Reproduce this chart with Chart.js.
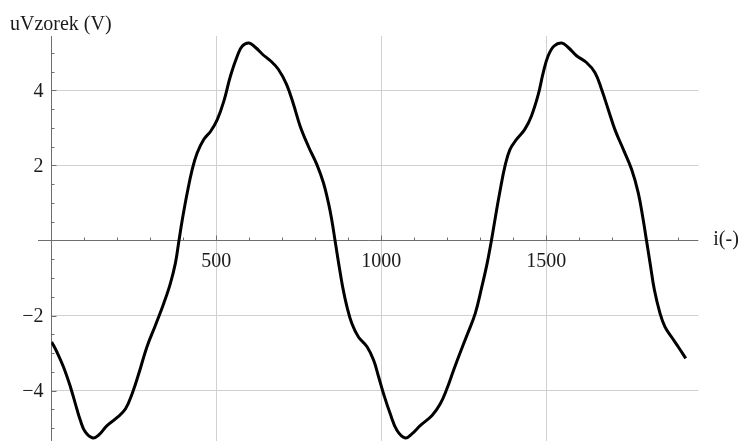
<!DOCTYPE html>
<html>
<head>
<meta charset="utf-8">
<script src="https://cdn.jsdelivr.net/npm/chart.js@4/dist/chart.umd.min.js"></script>
<style>
  html, body { margin: 0; padding: 0; background: #ffffff; }
  #wrap { width: 745px; height: 441px; position: relative; }
</style>
</head>
<body>
<div id="wrap"><canvas id="c"></canvas></div>
<script>
// Sample index i and measured voltage uVzorek (V)
const sampleIndex = [
  1, 17, 37, 58, 73, 88, 103, 126, 144, 169, 199, 225, 245, 265, 290, 316, 341, 361, 376, 387,
  397, 412, 427, 442, 462, 483, 503, 523, 543, 564, 579, 599, 619, 640, 665, 688, 713, 734, 754, 779,
  805, 825, 840, 850, 860, 871, 883, 896, 911, 931, 957, 977, 992, 1007, 1027, 1048, 1073, 1093, 1118, 1154,
  1179, 1199, 1219, 1240, 1260, 1285, 1305, 1321, 1334, 1346, 1359, 1375, 1390, 1410, 1435, 1455, 1476, 1491, 1506, 1524,
  1547, 1567, 1592, 1622, 1648, 1668, 1688, 1708, 1734, 1759, 1779, 1794, 1804, 1815, 1828, 1845, 1860, 1880, 1900, 1923
];
const voltage = [
  -2.70, -2.97, -3.37, -3.90, -4.35, -4.79, -5.10, -5.26, -5.18, -4.93, -4.72, -4.48, -4.08, -3.55, -2.83, -2.25, -1.67, -1.14, -0.61, 0.00,
  0.55, 1.27, 1.89, 2.33, 2.69, 2.91, 3.22, 3.71, 4.38, 4.92, 5.18, 5.26, 5.14, 4.96, 4.78, 4.56, 4.16, 3.63, 3.05, 2.51,
  2.02, 1.53, 1.00, 0.55, 0.00, -0.61, -1.23, -1.76, -2.21, -2.57, -2.83, -3.19, -3.63, -4.08, -4.61, -5.06, -5.26, -5.15, -4.93, -4.66,
  -4.35, -3.95, -3.46, -2.97, -2.52, -1.94, -1.23, -0.61, 0.00, 0.62, 1.27, 1.98, 2.42, 2.69, 2.96, 3.31, 3.89, 4.47, 4.92, 5.18,
  5.26, 5.14, 4.92, 4.74, 4.47, 4.02, 3.49, 2.96, 2.42, 1.89, 1.27, 0.55, 0.00, -0.61, -1.32, -1.94, -2.30, -2.57, -2.83, -3.14
];

// Labelled ticks on each axis
const xMajorTicks = [500, 1000, 1500];
const yMajorTicks = [-4, -2, 2, 4];
const xMinorStep = 100;
const yMinorStep = 0.5;

const xAxisTitle = 'i(-)';
const yAxisTitle = 'uVzorek (V)';

const labelFont = '20px "Liberation Serif", "Times New Roman", serif';
const axisColor = '#6e6e6e';
const gridColor = '#d0d0d0';
const textColor = '#1a1a1a';

const points = sampleIndex.map((v, k) => ({ x: v, y: voltage[k] }));

function fmt(v) {
  return v < 0 ? '\u2212' + Math.abs(v) : String(v);
}

// Axes crossing at the origin, with minor ticks and labels beside them
const originAxes = {
  id: 'originAxes',
  beforeDatasetsDraw(chart) {
    const { ctx, chartArea: a, scales: { x, y } } = chart;
    const x0 = Math.round(x.getPixelForValue(0)) + 0.5;
    const y0 = Math.round(y.getPixelForValue(0)) + 0.5;
    ctx.save();
    ctx.strokeStyle = axisColor;
    ctx.lineWidth = 1;
    ctx.beginPath();
    ctx.moveTo(Math.round(x.getPixelForValue(-40)), y0);
    ctx.lineTo(a.right, y0);
    ctx.moveTo(x0, a.top);
    ctx.lineTo(x0, a.bottom);
    for (let v = xMinorStep; v < x.max; v += xMinorStep) {
      const px = Math.round(x.getPixelForValue(v)) + 0.5;
      const len = xMajorTicks.includes(v) ? 5 : 3;
      ctx.moveTo(px, y0);
      ctx.lineTo(px, y0 - len);
    }
    for (let v = Math.ceil(y.min / yMinorStep) * yMinorStep; v <= y.max; v += yMinorStep) {
      if (Math.abs(v) < 1e-9) continue;
      const py = Math.round(y.getPixelForValue(v)) + 0.5;
      const len = yMajorTicks.includes(v) ? 5 : 3;
      ctx.moveTo(x0, py);
      ctx.lineTo(x0 + len, py);
    }
    ctx.stroke();

    ctx.fillStyle = textColor;
    ctx.font = labelFont;
    ctx.textBaseline = 'alphabetic';
    ctx.textAlign = 'center';
    xMajorTicks.forEach(v => {
      ctx.fillText(fmt(v), x.getPixelForValue(v), y0 + 26);
    });
    ctx.textAlign = 'right';
    yMajorTicks.forEach(v => {
      ctx.fillText(fmt(v), x0 - 8, y.getPixelForValue(v) + 6.5);
    });
    ctx.textAlign = 'left';
    ctx.fillText(yAxisTitle, 10, 30);
    ctx.fillText(xAxisTitle, a.right + 15, y0 + 4);
    ctx.restore();
  }
};

new Chart(document.getElementById('c'), {
  type: 'line',
  data: {
    datasets: [{
      data: points,
      borderColor: '#000000',
      borderWidth: 3,
      pointRadius: 0,
      tension: 0.4,
      fill: false
    }]
  },
  options: {
    responsive: true,
    maintainAspectRatio: false,
    animation: false,
    layout: { padding: { left: 51.3, right: 46.7, top: 36, bottom: 0 } },
    plugins: { legend: { display: false }, tooltip: { enabled: false } },
    scales: {
      x: {
        type: 'linear',
        min: 0,
        max: 1961,
        afterBuildTicks: s => { s.ticks = xMajorTicks.map(v => ({ value: v })); },
        ticks: { display: false },
        border: { display: false },
        grid: { color: gridColor, lineWidth: 1, drawTicks: false }
      },
      y: {
        type: 'linear',
        min: -5.34,
        max: 5.446,
        afterBuildTicks: s => { s.ticks = yMajorTicks.map(v => ({ value: v })); },
        ticks: { display: false },
        border: { display: false },
        grid: { color: gridColor, lineWidth: 1, drawTicks: false }
      }
    }
  },
  plugins: [originAxes]
});
</script>
</body>
</html>
